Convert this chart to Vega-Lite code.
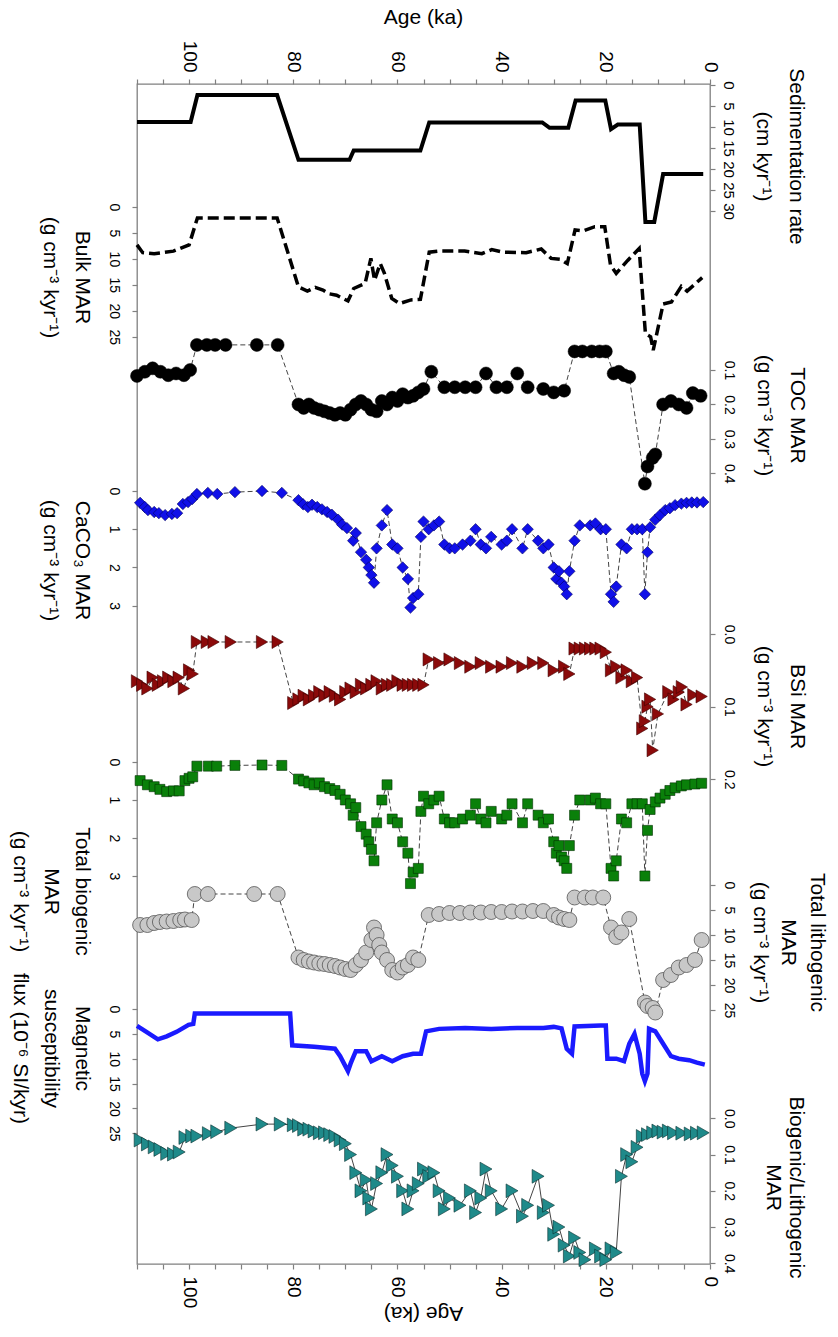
{
"$schema":"https://vega.github.io/schema/vega-lite/v6.json",
"width":573,"height":1180,
"autosize":{"type":"none"},
"padding":{"left":137,"top":84,"right":128,"bottom":73},
"background":"white",
"config":{"view":{"stroke":"#808080","strokeWidth":1.3},
"axis":{"grid":false,"labelFont":"Liberation Sans","titleFont":"Liberation Sans","labelColor":"black","titleColor":"black","tickColor":"#808080","tickWidth":1.2,"domain":false,"titleFontWeight":"normal","labelOverlap":false,"labelFlush":false,"labelBound":false,"tickSize":5}},
"datasets":{
"sed":[{"a":110,"v":8.8},{"a":99.7,"v":8.8},{"a":98.4,"v":2.4},{"a":83.1,"v":2.4},{"a":79,"v":17.8},{"a":69.2,"v":17.8},{"a":68.4,"v":15.6},{"a":55.6,"v":15.6},{"a":53.9,"v":8.9},{"a":32.2,"v":8.9},{"a":30.8,"v":10.2},{"a":27.2,"v":10.2},{"a":25.8,"v":3.7},{"a":20.1,"v":3.7},{"a":19.0,"v":10.5},{"a":17.7,"v":9.4},{"a":13.5,"v":9.4},{"a":12.4,"v":32.6},{"a":10.7,"v":32.6},{"a":9.0,"v":21.2},{"a":1.3,"v":21.2}],
"bulk":[{"a":110,"v":7.3},{"a":108.9,"v":8.8},{"a":106.7,"v":9.0},{"a":103,"v":8.5},{"a":100,"v":7.3},{"a":98.4,"v":2.1},{"a":83.1,"v":2.1},{"a":79,"v":15.4},{"a":77.3,"v":16.2},{"a":75.8,"v":15.5},{"a":74.3,"v":16.0},{"a":73.2,"v":16.7},{"a":71.7,"v":17.0},{"a":69.5,"v":18.1},{"a":68.4,"v":15.7},{"a":66.2,"v":14.7},{"a":65.1,"v":9.9},{"a":64.4,"v":14.1},{"a":63.3,"v":10.9},{"a":62.5,"v":12.8},{"a":61.1,"v":17.6},{"a":59.6,"v":18.6},{"a":57.4,"v":17.9},{"a":55.6,"v":17.8},{"a":53.9,"v":8.7},{"a":52.2,"v":8.5},{"a":47.1,"v":8.5},{"a":43.8,"v":9.0},{"a":41.9,"v":8.2},{"a":39.7,"v":8.7},{"a":35.3,"v":8.8},{"a":32.4,"v":8.1},{"a":30.5,"v":9.9},{"a":28.7,"v":10.1},{"a":27.4,"v":10.9},{"a":25.9,"v":4.4},{"a":24.3,"v":4.6},{"a":22.1,"v":3.8},{"a":20.2,"v":3.8},{"a":19.1,"v":11.2},{"a":18.0,"v":12.8},{"a":15.8,"v":10.3},{"a":13.6,"v":8.0},{"a":12.4,"v":24.4},{"a":11.4,"v":25.0},{"a":10.9,"v":27.6},{"a":9.0,"v":18.7},{"a":7.4,"v":18.3},{"a":5.5,"v":15.3},{"a":4.4,"v":16.2},{"a":1.5,"v":13.6}],
"toc":[{"a":110,"v":0.117},{"a":108.5,"v":0.105},{"a":107,"v":0.095},{"a":105.5,"v":0.105},{"a":104,"v":0.115},{"a":102.5,"v":0.11},{"a":101,"v":0.115},{"a":99.8,"v":0.1},{"a":98.5,"v":0.027},{"a":96.6,"v":0.027},{"a":95,"v":0.027},{"a":93,"v":0.027},{"a":87,"v":0.027},{"a":83,"v":0.027},{"a":79,"v":0.2},{"a":78,"v":0.21},{"a":77,"v":0.2},{"a":76,"v":0.21},{"a":75,"v":0.215},{"a":74,"v":0.22},{"a":73,"v":0.225},{"a":72,"v":0.23},{"a":71,"v":0.225},{"a":70,"v":0.23},{"a":69,"v":0.215},{"a":68,"v":0.2},{"a":67,"v":0.19},{"a":66,"v":0.2},{"a":65,"v":0.215},{"a":64,"v":0.22},{"a":63,"v":0.19},{"a":62,"v":0.2},{"a":61,"v":0.18},{"a":60,"v":0.19},{"a":59,"v":0.17},{"a":58,"v":0.18},{"a":57,"v":0.175},{"a":56,"v":0.165},{"a":55,"v":0.155},{"a":53.5,"v":0.105},{"a":51,"v":0.15},{"a":49,"v":0.15},{"a":47,"v":0.15},{"a":45,"v":0.15},{"a":43,"v":0.11},{"a":41,"v":0.15},{"a":39,"v":0.15},{"a":37,"v":0.11},{"a":35,"v":0.15},{"a":32,"v":0.155},{"a":30,"v":0.165},{"a":28,"v":0.16},{"a":26,"v":0.046},{"a":24.5,"v":0.046},{"a":22.7,"v":0.046},{"a":21.2,"v":0.046},{"a":20,"v":0.046},{"a":18.5,"v":0.11},{"a":17.5,"v":0.105},{"a":16.5,"v":0.115},{"a":15.5,"v":0.12},{"a":12.5,"v":0.43},{"a":12,"v":0.38},{"a":11,"v":0.355},{"a":10.5,"v":0.345},{"a":9,"v":0.2},{"a":7.5,"v":0.19},{"a":6,"v":0.2},{"a":4.5,"v":0.21},{"a":3.3,"v":0.167},{"a":1.8,"v":0.175}],
"caco3":[{"a":109.4,"v":0.31},{"a":108.5,"v":0.42},{"a":107.9,"v":0.5},{"a":106.7,"v":0.55},{"a":105.8,"v":0.58},{"a":104.6,"v":0.63},{"a":103.3,"v":0.6},{"a":102.3,"v":0.58},{"a":101.2,"v":0.34},{"a":100.2,"v":0.29},{"a":99.4,"v":0.21},{"a":98.5,"v":0.08},{"a":96.4,"v":0.05},{"a":94.6,"v":0.08},{"a":91.2,"v":0.03},{"a":86,"v":0.0},{"a":82.2,"v":0.05},{"a":79,"v":0.24},{"a":78.1,"v":0.35},{"a":77.2,"v":0.42},{"a":76.4,"v":0.36},{"a":75.4,"v":0.42},{"a":74.5,"v":0.48},{"a":73.5,"v":0.55},{"a":72.6,"v":0.62},{"a":71.4,"v":0.75},{"a":70.6,"v":0.88},{"a":69.7,"v":0.97},{"a":68.5,"v":1.3},{"a":68,"v":1.1},{"a":67,"v":1.6},{"a":66,"v":1.8},{"a":65.5,"v":2.0},{"a":65,"v":2.2},{"a":64.5,"v":2.4},{"a":64,"v":1.5},{"a":63,"v":0.9},{"a":62,"v":0.5},{"a":61,"v":1.4},{"a":60,"v":1.5},{"a":59,"v":2.0},{"a":58,"v":2.3},{"a":57.5,"v":3.05},{"a":57,"v":2.8},{"a":56,"v":2.7},{"a":55.5,"v":1.2},{"a":55,"v":0.8},{"a":54,"v":1.0},{"a":53,"v":0.9},{"a":52,"v":0.8},{"a":51,"v":1.4},{"a":50,"v":1.5},{"a":49,"v":1.5},{"a":47.5,"v":1.4},{"a":46,"v":1.3},{"a":45,"v":1.0},{"a":44,"v":1.4},{"a":43,"v":1.5},{"a":42,"v":1.2},{"a":40,"v":1.4},{"a":39,"v":1.3},{"a":38,"v":1.0},{"a":36,"v":1.5},{"a":35,"v":1.0},{"a":33,"v":1.3},{"a":32,"v":1.5},{"a":31,"v":1.4},{"a":30,"v":2.0},{"a":29.5,"v":2.3},{"a":29,"v":2.1},{"a":28.5,"v":2.4},{"a":28,"v":2.5},{"a":27.5,"v":2.7},{"a":27,"v":2.1},{"a":26,"v":1.3},{"a":25,"v":0.9},{"a":23,"v":0.9},{"a":22,"v":0.85},{"a":21,"v":1.0},{"a":20,"v":1.0},{"a":19,"v":2.7},{"a":18.5,"v":2.9},{"a":18,"v":2.5},{"a":17,"v":1.4},{"a":16,"v":1.5},{"a":15,"v":1.0},{"a":14,"v":1.0},{"a":13,"v":1.0},{"a":12.5,"v":2.7},{"a":12,"v":1.6},{"a":11.5,"v":0.95},{"a":10.5,"v":0.75},{"a":9.6,"v":0.63},{"a":8.6,"v":0.5},{"a":7.7,"v":0.45},{"a":6.7,"v":0.37},{"a":5.5,"v":0.33},{"a":4.5,"v":0.31},{"a":3.5,"v":0.3},{"a":2.5,"v":0.3},{"a":1.3,"v":0.29}],
"bsi":[{"a":110,"v":0.065},{"a":109,"v":0.07},{"a":108,"v":0.075},{"a":107,"v":0.06},{"a":106,"v":0.07},{"a":105,"v":0.065},{"a":104,"v":0.06},{"a":103,"v":0.065},{"a":102,"v":0.06},{"a":101,"v":0.075},{"a":100,"v":0.05},{"a":99.3,"v":0.055},{"a":98.5,"v":0.011},{"a":96.6,"v":0.011},{"a":95.3,"v":0.011},{"a":92,"v":0.011},{"a":86,"v":0.011},{"a":83,"v":0.011},{"a":80,"v":0.095},{"a":79,"v":0.09},{"a":78,"v":0.085},{"a":77,"v":0.09},{"a":76,"v":0.085},{"a":75,"v":0.08},{"a":74,"v":0.085},{"a":73,"v":0.08},{"a":72,"v":0.085},{"a":71,"v":0.09},{"a":70,"v":0.08},{"a":69,"v":0.075},{"a":68,"v":0.08},{"a":67,"v":0.07},{"a":66,"v":0.075},{"a":65,"v":0.07},{"a":64,"v":0.065},{"a":63,"v":0.075},{"a":62,"v":0.07},{"a":61,"v":0.07},{"a":60,"v":0.065},{"a":59,"v":0.07},{"a":58,"v":0.07},{"a":57,"v":0.07},{"a":56,"v":0.07},{"a":55,"v":0.07},{"a":54,"v":0.035},{"a":52,"v":0.04},{"a":50,"v":0.035},{"a":48,"v":0.04},{"a":46,"v":0.045},{"a":44,"v":0.04},{"a":42,"v":0.045},{"a":40,"v":0.045},{"a":38,"v":0.04},{"a":36,"v":0.045},{"a":34,"v":0.04},{"a":32,"v":0.04},{"a":30,"v":0.05},{"a":28,"v":0.045},{"a":27,"v":0.055},{"a":26,"v":0.02},{"a":25,"v":0.02},{"a":24,"v":0.02},{"a":23,"v":0.02},{"a":22,"v":0.02},{"a":21,"v":0.02},{"a":20,"v":0.025},{"a":19,"v":0.05},{"a":18,"v":0.045},{"a":17,"v":0.06},{"a":16,"v":0.05},{"a":15,"v":0.065},{"a":14,"v":0.06},{"a":13,"v":0.13},{"a":12.5,"v":0.12},{"a":12,"v":0.1},{"a":11.5,"v":0.09},{"a":11,"v":0.16},{"a":10,"v":0.11},{"a":8,"v":0.08},{"a":7,"v":0.09},{"a":6,"v":0.08},{"a":5.4,"v":0.073},{"a":4.5,"v":0.097},{"a":3.2,"v":0.084},{"a":1.6,"v":0.086}],
"bio":[{"a":109.4,"v":0.49},{"a":108,"v":0.6},{"a":106.7,"v":0.65},{"a":105.6,"v":0.72},{"a":104.3,"v":0.78},{"a":103,"v":0.76},{"a":101.9,"v":0.76},{"a":100.8,"v":0.49},{"a":100,"v":0.43},{"a":99.3,"v":0.39},{"a":98.5,"v":0.11},{"a":96.3,"v":0.11},{"a":94.7,"v":0.11},{"a":91.2,"v":0.09},{"a":86,"v":0.08},{"a":82.2,"v":0.09},{"a":79,"v":0.45},{"a":78,"v":0.5},{"a":77,"v":0.55},{"a":76,"v":0.6},{"a":75,"v":0.55},{"a":74,"v":0.65},{"a":73,"v":0.7},{"a":72,"v":0.75},{"a":71,"v":0.85},{"a":70,"v":1.0},{"a":69,"v":1.1},{"a":68.5,"v":1.4},{"a":68,"v":1.2},{"a":67,"v":1.7},{"a":66,"v":1.9},{"a":65.5,"v":2.1},{"a":65,"v":2.3},{"a":64.5,"v":2.6},{"a":64,"v":1.6},{"a":63,"v":1.0},{"a":62,"v":0.6},{"a":61,"v":1.5},{"a":60,"v":1.6},{"a":59,"v":2.1},{"a":58,"v":2.4},{"a":57.5,"v":3.2},{"a":57,"v":2.9},{"a":56,"v":2.8},{"a":55.5,"v":1.3},{"a":55,"v":0.9},{"a":54,"v":1.1},{"a":53,"v":1.0},{"a":52,"v":0.9},{"a":51,"v":1.5},{"a":50,"v":1.6},{"a":49,"v":1.6},{"a":47.5,"v":1.5},{"a":46,"v":1.4},{"a":45,"v":1.1},{"a":44,"v":1.5},{"a":43,"v":1.6},{"a":42,"v":1.3},{"a":40,"v":1.5},{"a":39,"v":1.4},{"a":38,"v":1.1},{"a":36,"v":1.6},{"a":35,"v":1.1},{"a":33,"v":1.4},{"a":32,"v":1.6},{"a":31,"v":1.5},{"a":30,"v":2.1},{"a":29.5,"v":2.4},{"a":29,"v":2.2},{"a":28.5,"v":2.5},{"a":28,"v":2.6},{"a":27.5,"v":2.8},{"a":27,"v":2.2},{"a":26,"v":1.4},{"a":25,"v":1.0},{"a":23,"v":1.0},{"a":22,"v":0.95},{"a":21,"v":1.1},{"a":20,"v":1.1},{"a":19,"v":2.8},{"a":18.5,"v":3.0},{"a":18,"v":2.6},{"a":17,"v":1.5},{"a":16,"v":1.6},{"a":15,"v":1.1},{"a":14,"v":1.1},{"a":13,"v":1.1},{"a":12.5,"v":3.0},{"a":12,"v":1.8},{"a":11.5,"v":1.25},{"a":10.5,"v":1.05},{"a":9.6,"v":0.95},{"a":8.6,"v":0.85},{"a":7.7,"v":0.75},{"a":6.7,"v":0.68},{"a":5.5,"v":0.63},{"a":4.5,"v":0.6},{"a":2.9,"v":0.58},{"a":1.6,"v":0.56}],
"litho":[{"a":109.4,"v":8.0},{"a":108,"v":8.0},{"a":106.7,"v":7.6},{"a":105.6,"v":7.4},{"a":104.3,"v":7.3},{"a":103,"v":7.2},{"a":101.7,"v":7.0},{"a":100.8,"v":6.9},{"a":99.5,"v":7.0},{"a":98.9,"v":1.8},{"a":96.4,"v":1.8},{"a":87.5,"v":1.8},{"a":83,"v":1.8},{"a":79,"v":14.5},{"a":78,"v":15},{"a":77,"v":15.3},{"a":76,"v":15.5},{"a":75,"v":15.7},{"a":74,"v":15.8},{"a":73,"v":16},{"a":72,"v":16.2},{"a":71,"v":16.5},{"a":70,"v":16.8},{"a":69,"v":17},{"a":68,"v":16},{"a":67,"v":15},{"a":66,"v":13.5},{"a":65,"v":11},{"a":64.5,"v":8.5},{"a":64,"v":10},{"a":63.5,"v":12},{"a":63,"v":13.5},{"a":62,"v":15},{"a":61,"v":17},{"a":60,"v":17.5},{"a":59,"v":16.5},{"a":58,"v":16},{"a":57,"v":14.5},{"a":56,"v":15},{"a":54,"v":6},{"a":52,"v":5.8},{"a":50,"v":5.6},{"a":48,"v":5.6},{"a":46,"v":5.5},{"a":44,"v":5.5},{"a":42,"v":5.4},{"a":40,"v":5.4},{"a":38,"v":5.3},{"a":36,"v":5.3},{"a":34,"v":5.2},{"a":32,"v":5.2},{"a":30,"v":6},{"a":29,"v":6.5},{"a":28,"v":6.8},{"a":27,"v":7},{"a":26,"v":2.5},{"a":24,"v":2.5},{"a":22.5,"v":2.5},{"a":20.5,"v":2.5},{"a":19,"v":8.5},{"a":18,"v":10.4},{"a":17,"v":9.5},{"a":15.5,"v":6.8},{"a":12.5,"v":23.5},{"a":12,"v":24.2},{"a":11,"v":24.6},{"a":10.5,"v":25.5},{"a":9,"v":19},{"a":7.5,"v":18},{"a":6,"v":16.5},{"a":4.5,"v":16},{"a":2.9,"v":15},{"a":1.6,"v":11}],
"mag":[{"a":110,"v":3.4},{"a":108.2,"v":4.6},{"a":106,"v":6.1},{"a":104.3,"v":5.5},{"a":102.4,"v":4.6},{"a":100.1,"v":3.2},{"a":99.2,"v":3.0},{"a":98.9,"v":0.9},{"a":80.6,"v":0.9},{"a":80.2,"v":7.3},{"a":76,"v":7.6},{"a":72,"v":8},{"a":71,"v":9.5},{"a":70,"v":11.5},{"a":69.5,"v":12.5},{"a":69,"v":11},{"a":68,"v":8.5},{"a":66,"v":8.5},{"a":65,"v":10.5},{"a":63,"v":9.5},{"a":61,"v":10.5},{"a":59,"v":9.5},{"a":57,"v":9},{"a":55.5,"v":9},{"a":54.5,"v":4.5},{"a":52,"v":4.0},{"a":47,"v":3.8},{"a":42,"v":4.0},{"a":37,"v":3.8},{"a":32,"v":3.8},{"a":30,"v":3.6},{"a":28.5,"v":3.9},{"a":27.5,"v":8},{"a":26.5,"v":9},{"a":26,"v":3.5},{"a":21,"v":3.3},{"a":20,"v":3.3},{"a":19.7,"v":10},{"a":18,"v":10},{"a":16.5,"v":10.5},{"a":15.5,"v":7},{"a":14.5,"v":5},{"a":13.5,"v":9},{"a":13,"v":13},{"a":12.5,"v":14.5},{"a":12,"v":13},{"a":11.7,"v":4},{"a":10.5,"v":4.5},{"a":9,"v":7},{"a":7.5,"v":9.5},{"a":6,"v":10},{"a":4,"v":10.3},{"a":2.5,"v":10.8},{"a":1,"v":11.2}],
"bl":[{"a":109.4,"v":0.06},{"a":108,"v":0.071},{"a":106.7,"v":0.079},{"a":105.6,"v":0.086},{"a":104.3,"v":0.097},{"a":103,"v":0.099},{"a":101.9,"v":0.093},{"a":100.8,"v":0.053},{"a":99.5,"v":0.049},{"a":98.5,"v":0.049},{"a":96.3,"v":0.042},{"a":94.7,"v":0.037},{"a":92,"v":0.027},{"a":86,"v":0.016},{"a":82.5,"v":0.016},{"a":80,"v":0.018},{"a":79,"v":0.02},{"a":78,"v":0.03},{"a":77,"v":0.03},{"a":76,"v":0.035},{"a":75,"v":0.04},{"a":74,"v":0.04},{"a":73,"v":0.045},{"a":72,"v":0.05},{"a":71,"v":0.06},{"a":70,"v":0.07},{"a":69,"v":0.1},{"a":68,"v":0.15},{"a":67,"v":0.2},{"a":66,"v":0.17},{"a":65.5,"v":0.22},{"a":65,"v":0.25},{"a":64,"v":0.18},{"a":63,"v":0.15},{"a":62,"v":0.1},{"a":61,"v":0.13},{"a":60,"v":0.16},{"a":59,"v":0.2},{"a":58,"v":0.25},{"a":57,"v":0.2},{"a":56,"v":0.18},{"a":55,"v":0.14},{"a":54,"v":0.16},{"a":53,"v":0.15},{"a":52,"v":0.2},{"a":51,"v":0.25},{"a":50,"v":0.22},{"a":48,"v":0.24},{"a":46,"v":0.2},{"a":45,"v":0.26},{"a":44,"v":0.22},{"a":43,"v":0.14},{"a":42,"v":0.2},{"a":40,"v":0.25},{"a":38,"v":0.2},{"a":36,"v":0.27},{"a":35,"v":0.24},{"a":33,"v":0.16},{"a":32,"v":0.26},{"a":31,"v":0.24},{"a":30,"v":0.32},{"a":29,"v":0.3},{"a":28,"v":0.35},{"a":27,"v":0.38},{"a":26,"v":0.33},{"a":25,"v":0.37},{"a":24,"v":0.39},{"a":22,"v":0.36},{"a":21,"v":0.38},{"a":20,"v":0.39},{"a":19,"v":0.36},{"a":18,"v":0.37},{"a":17,"v":0.16},{"a":16,"v":0.1},{"a":15,"v":0.12},{"a":14,"v":0.08},{"a":13,"v":0.05},{"a":12,"v":0.045},{"a":11,"v":0.04},{"a":10,"v":0.035},{"a":9,"v":0.038},{"a":8,"v":0.035},{"a":7,"v":0.04},{"a":5.4,"v":0.041},{"a":3.8,"v":0.043},{"a":2.6,"v":0.041},{"a":1.3,"v":0.04}]
},
"layer":[
{"data":{"name":"sed"},"mark":{"type":"line","color":"black","strokeWidth":4},
"encoding":{"x":{"field":"a","type":"quantitative","scale":{"domain":[0,110],"reverse":true,"nice":false,"zero":false},
"axis":{"orient":"top","values":[0,5,10,15,20,25,30,35,40,45,50,55,60,65,70,75,80,85,90,95,100,105,110],"labelExpr":"datum.value % 20 === 0 ? datum.label : ''","labelAngle":90,"labelAlign":"right","labelBaseline":"middle","labelFontSize":19,"labelPadding":7,"title":"Age (ka)","titleFontSize":21,"titleAngle":0,"titleX":286,"titleY":-67,"titleAlign":"center","titleBaseline":"middle"}},
"y":{"field":"v","type":"quantitative","scale":{"domain":[-0.238,280.7],"reverse":true,"nice":false,"zero":false},
"axis":{"orient":"right","values":[0,5,10,15,20,25,30],"labelAngle":90,"labelAlign":"center","labelBaseline":"bottom","labelFontSize":15,"labelPadding":5,"title":["Sedimentation rate","(cm  kyr⁻¹)"],"titleAngle":90,"titleX":85,"titleY":72,"titleAlign":"center","titleBaseline":"middle","titleFontSize":21,"titleLineHeight":33}}}},
{"data":{"name":"bulk"},"mark":{"type":"line","color":"black","strokeWidth":3.5,"strokeDash":[11,5]},
"encoding":{"x":{"field":"a","type":"quantitative","scale":{"domain":[0,110],"reverse":true,"nice":false,"zero":false},"axis":null},
"y":{"field":"v","type":"quantitative","scale":{"domain":[-23.7,203.66],"reverse":true,"nice":false,"zero":false},
"axis":{"orient":"left","values":[0,5,10,15,20,25],"labelAngle":90,"labelAlign":"center","labelBaseline":"top","labelFontSize":14,"labelPadding":12,"title":["Bulk MAR","(g cm⁻³ kyr⁻¹)"],"titleAngle":90,"titleX":-56,"titleY":193,"titleAlign":"center","titleBaseline":"middle","titleFontSize":21,"titleLineHeight":32}}}},
{"data":{"name":"toc"},
"encoding":{"x":{"field":"a","type":"quantitative","scale":{"domain":[0,110],"reverse":true,"nice":false,"zero":false},"axis":null},
"y":{"field":"v","type":"quantitative","scale":{"domain":[-0.7305,2.6957],"reverse":true,"nice":false,"zero":false},
"axis":{"orient":"right","values":[0.1,0.2,0.3,0.4],"format":".1f","labelAngle":90,"labelAlign":"center","labelBaseline":"bottom","labelFontSize":14,"labelPadding":6,"title":["TOC MAR","(g cm⁻³ kyr⁻¹)"],"titleAngle":90,"titleX":86,"titleY":331,"titleAlign":"center","titleBaseline":"middle","titleFontSize":21,"titleLineHeight":33}}},
"layer":[{"mark":{"type":"line","color":"#444","strokeWidth":1,"strokeDash":[5,3]}},{"mark":{"type":"point","shape":"circle","filled":true,"size":169,"fill":"black","stroke":"black","strokeWidth":0.5,"opacity":1}}]},
{"data":{"name":"caco3"},
"encoding":{"x":{"field":"a","type":"quantitative","scale":{"domain":[0,110],"reverse":true,"nice":false,"zero":false},"axis":null},
"y":{"field":"v","type":"quantitative","scale":{"domain":[-10.646,20.22],"reverse":true,"nice":false,"zero":false},
"axis":{"orient":"left","values":[0,1,2,3],"labelAngle":90,"labelAlign":"center","labelBaseline":"top","labelFontSize":14,"labelPadding":12,"title":["CaCO₃ MAR","(g cm⁻³ kyr⁻¹)"],"titleAngle":90,"titleX":-56,"titleY":476,"titleAlign":"center","titleBaseline":"middle","titleFontSize":21,"titleLineHeight":32}}},
"layer":[{"mark":{"type":"line","color":"#444","strokeWidth":1,"strokeDash":[5,3]}},{"mark":{"type":"point","shape":"diamond","filled":true,"size":130,"fill":"#1010e8","stroke":"#000060","strokeWidth":0.6,"opacity":1}}]},
{"data":{"name":"bsi"},
"encoding":{"x":{"field":"a","type":"quantitative","scale":{"domain":[0,110],"reverse":true,"nice":false,"zero":false},"axis":null},
"y":{"field":"v","type":"quantitative","scale":{"domain":[-0.7571,0.8672],"reverse":true,"nice":false,"zero":false},
"axis":{"orient":"right","values":[0,0.1,0.2],"format":".1f","labelAngle":90,"labelAlign":"center","labelBaseline":"bottom","labelFontSize":14,"labelPadding":6,"title":["BSi MAR","(g cm⁻³ kyr⁻¹)"],"titleAngle":90,"titleX":86,"titleY":622,"titleAlign":"center","titleBaseline":"middle","titleFontSize":21,"titleLineHeight":33}}},
"layer":[{"mark":{"type":"line","color":"#444","strokeWidth":1,"strokeDash":[5,3]}},{"mark":{"type":"point","shape":"triangle-right","filled":true,"size":170,"fill":"#8b0a0a","stroke":"#400000","strokeWidth":0.6,"opacity":1}}]},
{"data":{"name":"bio"},
"encoding":{"x":{"field":"a","type":"quantitative","scale":{"domain":[0,110],"reverse":true,"nice":false,"zero":false},"axis":null},
"y":{"field":"v","type":"quantitative","scale":{"domain":[-17.842,13.211],"reverse":true,"nice":false,"zero":false},
"axis":{"orient":"left","values":[0,1,2,3],"labelAngle":90,"labelAlign":"center","labelBaseline":"top","labelFontSize":14,"labelPadding":12,"title":["Total biogenic\u00a0\u00a0\u00a0\u00a0\u00a0\u00a0\u00a0\u00a0\u00a0\u00a0\u00a0\u00a0\u00a0\u00a0\u00a0\u00a0","\u00a0\u00a0\u00a0\u00a0MAR","\u00a0\u00a0\u00a0\u00a0\u00a0\u00a0\u00a0\u00a0\u00a0\u00a0\u00a0\u00a0\u00a0\u00a0(g cm⁻³ kyr⁻¹)"],"titleAngle":90,"titleX":-56,"titleY":807,"titleAlign":"center","titleBaseline":"middle","titleFontSize":21,"titleLineHeight":31}}},
"layer":[{"mark":{"type":"line","color":"#444","strokeWidth":1,"strokeDash":[5,3]}},{"mark":{"type":"point","shape":"square","filled":true,"size":100,"fill":"#0a800a","stroke":"#003000","strokeWidth":0.6,"opacity":1}}]},
{"data":{"name":"litho"},
"encoding":{"x":{"field":"a","type":"quantitative","scale":{"domain":[0,110],"reverse":true,"nice":false,"zero":false},"axis":null},
"y":{"field":"v","type":"quantitative","scale":{"domain":[-160.2,75.8],"reverse":true,"nice":false,"zero":false},
"axis":{"orient":"right","values":[0,5,10,15,20,25],"labelAngle":90,"labelAlign":"center","labelBaseline":"bottom","labelFontSize":14,"labelPadding":6,"title":["Total lithogenic","MAR","(g cm⁻³ kyr⁻¹)"],"titleAngle":90,"titleX":106,"titleY":858,"titleAlign":"center","titleBaseline":"middle","titleFontSize":21,"titleLineHeight":28.5}}},
"layer":[{"mark":{"type":"line","color":"#444","strokeWidth":1,"strokeDash":[5,3]}},{"mark":{"type":"point","shape":"circle","filled":true,"size":225,"fill":"#c8c8c8","stroke":"#555","strokeWidth":0.8,"opacity":1}}]},
{"data":{"name":"mag"},"mark":{"type":"line","color":"#1a1aff","strokeWidth":4.5},
"encoding":{"x":{"field":"a","type":"quantitative","scale":{"domain":[0,110],"reverse":true,"nice":false,"zero":false},"axis":null},
"y":{"field":"v","type":"quantitative","scale":{"domain":[-186.04,51.29],"reverse":true,"nice":false,"zero":false},
"axis":{"orient":"left","values":[0,5,10,15,20,25],"labelAngle":90,"labelAlign":"center","labelBaseline":"top","labelFontSize":14,"labelPadding":12,"title":["Magnetic","susceptibility","flux (10⁻⁶ SI/kyr)"],"titleAngle":90,"titleX":-56,"titleY":964,"titleAlign":"center","titleBaseline":"middle","titleFontSize":21,"titleLineHeight":31}}}},
{"data":{"name":"bl"},
"encoding":{"x":{"field":"a","type":"quantitative","scale":{"domain":[0,110],"reverse":true,"nice":false,"zero":false},
"axis":{"orient":"bottom","values":[0,5,10,15,20,25,30,35,40,45,50,55,60,65,70,75,80,85,90,95,100,105,110],"labelExpr":"datum.value % 20 === 0 ? datum.label : ''","labelAngle":90,"labelAlign":"left","labelBaseline":"middle","labelFontSize":19,"labelPadding":7,"title":"Age (ka)","titleFontSize":21,"titleAngle":180,"titleX":286,"titleY":48,"titleAlign":"center","titleBaseline":"middle"}},
"y":{"field":"v","type":"quantitative","scale":{"domain":[-2.8533,0.4019],"reverse":true,"nice":false,"zero":false},
"axis":{"orient":"right","values":[0,0.1,0.2,0.3,0.4],"format":".1f","labelAngle":90,"labelAlign":"center","labelBaseline":"bottom","labelFontSize":14,"labelPadding":6,"title":["Biogenic/Lithogenic","MAR"],"titleAngle":90,"titleX":85,"titleY":1103,"titleAlign":"center","titleBaseline":"middle","titleFontSize":21,"titleLineHeight":23}}},
"layer":[{"mark":{"type":"line","color":"#444","strokeWidth":1}},{"mark":{"type":"point","shape":"triangle-right","filled":true,"size":190,"fill":"#1f8a8a","stroke":"#0a3030","strokeWidth":0.6,"opacity":1}}]}
],
"resolve":{"scale":{"y":"independent"},"axis":{"x":"independent","y":"independent"}}
}
